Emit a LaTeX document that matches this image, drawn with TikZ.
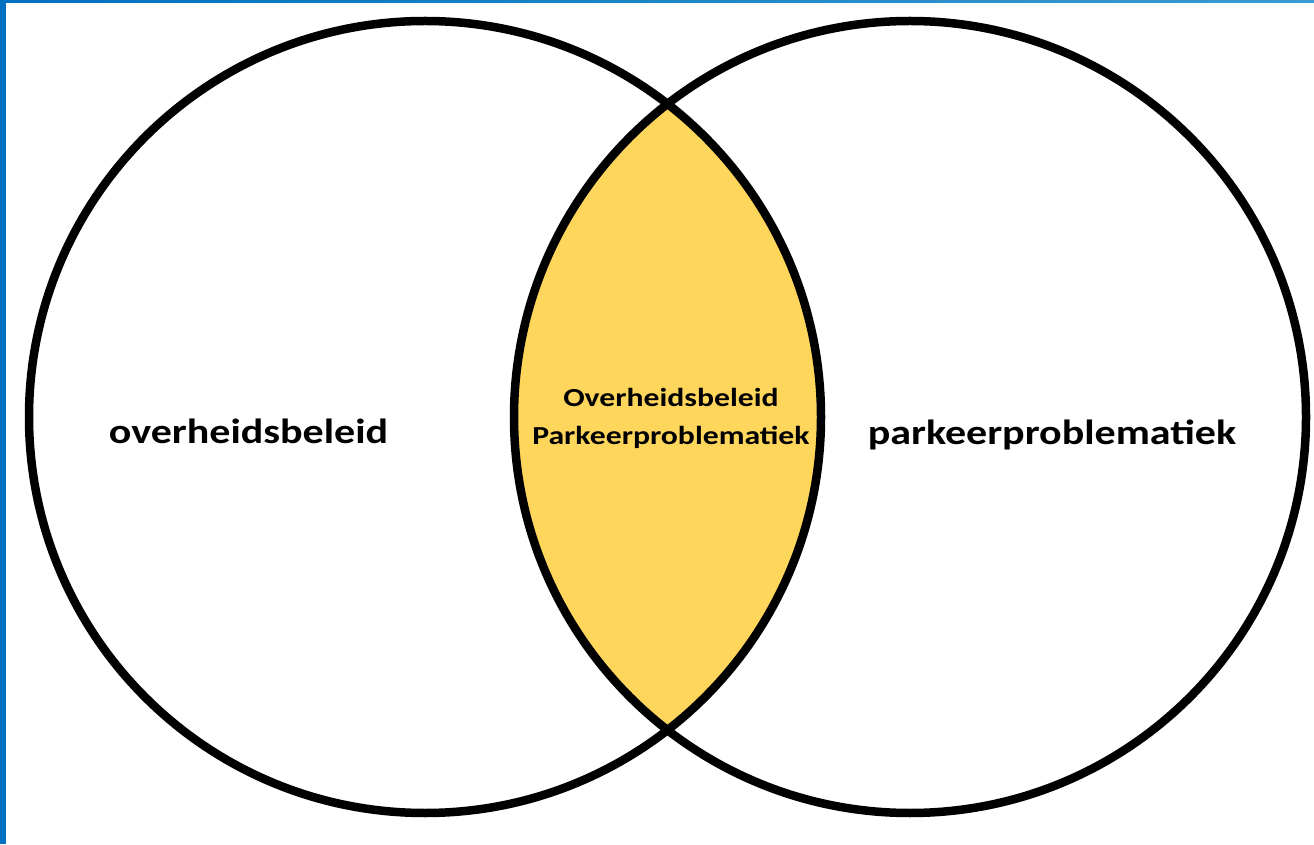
\documentclass[tikz,border=0pt]{standalone}
\usepackage{fontspec}
\setmainfont{Carlito}
\begin{document}
\begin{tikzpicture}[x=1pt,y=1pt,
  ring/.style={circle, draw=black, line width=8.5pt, minimum size=792pt, inner sep=0pt},
  biglabel/.style={font=\bfseries\fontsize{35}{40}\selectfont, text=black, inner sep=0pt, anchor=base, xscale=1.2, transform shape},
  lenslabel/.style={font=\bfseries\fontsize{26}{38}\selectfont, text=black, inner sep=0pt, anchor=base, xscale=1.22, transform shape}]
\definecolor{barblue}{HTML}{0070C0}
\definecolor{barlight}{HTML}{3A9BD0}
\definecolor{lensfill}{HTML}{FFD65C}
\useasboundingbox (0,0) rectangle (1314,844);
\fill[white] (0,0) rectangle (1314,844);
\fill[barblue] (0,0) rectangle (6,844);
\shade[left color=barblue, right color=barlight] (0,841) rectangle (1314,844);
\begin{scope}
  \clip (425,427) circle (396);
  \fill[lensfill] (910,427) circle (396);
\end{scope}
\node[ring] (left) at (425,427) {};
\node[ring] (right) at (910,427) {};
\node[biglabel] (lt) at (248.5,400) {overheidsbeleid};
\node[biglabel] (rt) at (1052,399) {parkeerproblematiek};
\node[lenslabel] (ct1) at (671,437) {Overheidsbeleid};
\node[lenslabel] (ct2) at (671,399) {Parkeerproblematiek};
\end{tikzpicture}
\end{document}
